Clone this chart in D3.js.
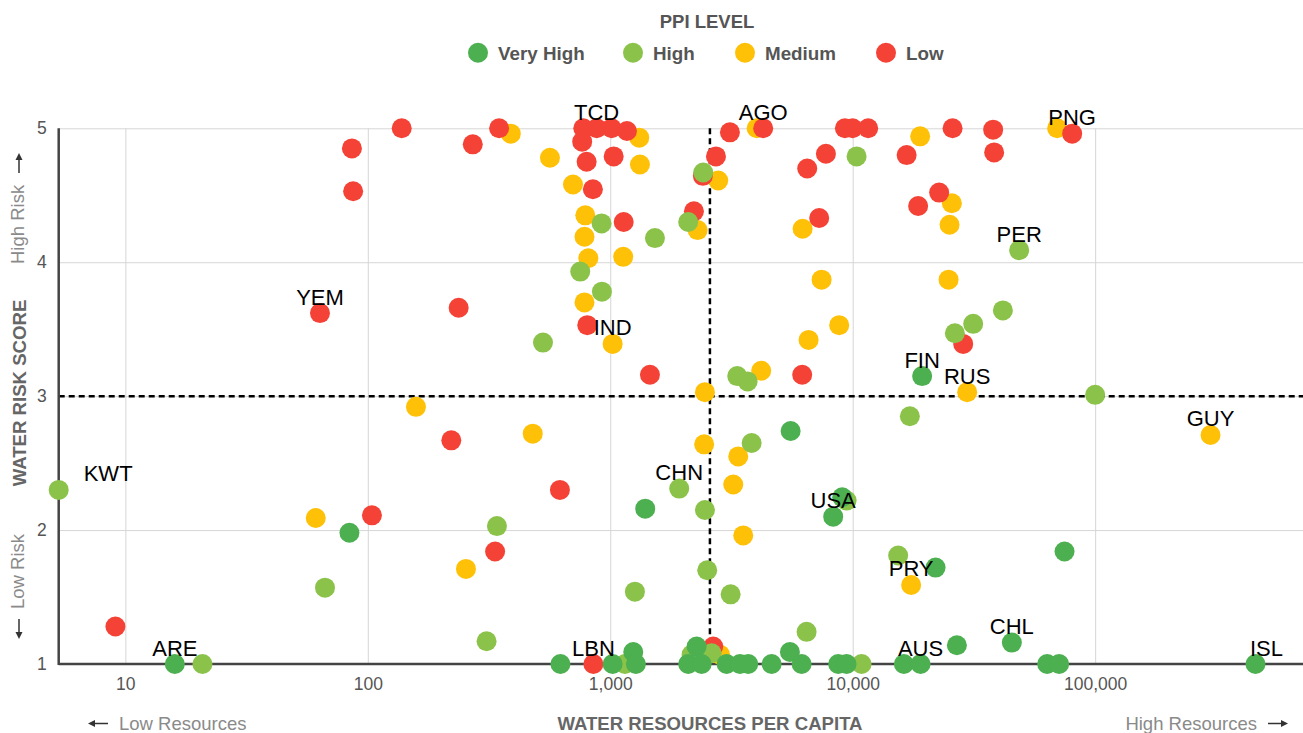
<!DOCTYPE html>
<html>
<head>
<meta charset="utf-8">
<script src="https://cdn.jsdelivr.net/npm/d3@7"></script>
<style>
  body { margin: 0; background: #fff; }
  svg { display: block; font-family: "Liberation Sans", Arial, Helvetica, sans-serif; }
</style>
</head>
<body>
<svg id="chart" width="1303" height="733"></svg>
<script>
// ---------------- DATA ----------------
const levelNames = ["Very High", "High", "Medium", "Low"];
const levelColors = ["#4caf50", "#8bc34a", "#ffc107", "#f44336"];
const xTickValues = [10, 100, 1000, 10000, 100000];
const yTickValues = [1, 2, 3, 4, 5];
const resourcesThreshold = 2577;
const riskThreshold = 3;

// [water resources per capita, water risk score, label]
const mediumPoints = [
  [61, 2.09], [158, 2.92], [254, 1.71], [479, 2.72], [389, 4.96], [564, 4.78], [702, 4.58],
  [789, 4.35], [783, 4.19], [812, 4.03], [783, 3.70], [1023, 3.39, "IND"], [1131, 4.04],
  [1317, 4.93], [1326, 4.73], [2293, 4.24], [2789, 4.61], [2458, 3.03], [2440, 2.64],
  [3372, 2.55], [3216, 2.34], [3536, 1.96], [2835, 1.07], [4016, 5.0], [4194, 3.19],
  [6214, 4.25], [7443, 3.87], [6578, 3.42], [8797, 3.53], [18980, 4.94], [25650, 4.44],
  [25090, 4.28], [24860, 3.87], [29660, 3.03, "RUS"], [17420, 1.59, "PRY"],
  [299200, 2.71, "GUY"], [69700, 5.0]
];
const lowPoints = [
  [9.1, 1.28], [86, 4.85], [87, 4.53], [138, 5.0], [63.5, 3.62, "YEM"], [237, 3.66],
  [104, 2.11], [221, 2.67], [335, 1.84], [620, 2.30], [348, 5.0], [271, 4.88], [774, 5.0],
  [766, 4.90], [879, 5.0, "TCD"], [1013, 5.0], [1172, 4.98], [799, 4.75], [1033, 4.79],
  [848, 4.545], [1136, 4.30], [804, 3.53], [1458, 3.16], [2214, 4.38], [2410, 4.645],
  [2729, 4.79], [3116, 4.97], [4274, 5.0, "AGO"], [6492, 4.70], [7754, 4.81], [9287, 5.0],
  [9991, 5.0], [11585, 5.0], [7275, 4.33], [6190, 3.16], [16690, 4.80], [25820, 5.0],
  [37960, 4.99], [38320, 4.82], [80400, 4.96, "PNG"], [22730, 4.52], [18620, 4.42],
  [28560, 3.39], [852, 1.0, "LBN"], [2659, 1.13]
];
const highPoints = [
  [5.31, 2.30, "KWT"], [20.8, 1.0], [66.6, 1.57], [341, 2.03], [309, 1.17], [528, 3.40],
  [752, 3.93], [921, 4.29], [924, 3.78], [1529, 4.18], [2097, 4.30], [2418, 4.67],
  [1925, 2.31, "CHN"], [2458, 2.15], [2512, 1.70], [1264, 1.54], [3137, 1.52], [3830, 2.65],
  [3340, 3.15], [3687, 3.11], [6455, 1.24], [10378, 4.79], [48600, 4.09, "PER"],
  [41640, 3.64], [31400, 3.54], [26390, 3.47], [100000, 3.01], [17210, 2.85], [15400, 1.81],
  [9437, 2.22], [10882, 1.0], [1150, 1.0], [2165, 1.07], [2619, 1.08]
];
const veryHighPoints = [
  [16.0, 1.0, "ARE"], [84, 1.98], [623, 1.0], [1023, 1.0], [1244, 1.09], [1276, 1.0],
  [1394, 2.16], [2271, 1.13], [2097, 1.0], [2382, 1.0], [3020, 1.0], [3427, 1.0],
  [3708, 1.0], [4630, 1.0], [5509, 1.09], [6156, 1.0], [8714, 1.0], [9437, 1.0],
  [5546, 2.74], [8310, 2.10, "USA"], [9051, 2.245], [19340, 3.15, "FIN"], [21970, 1.72],
  [74770, 1.84], [16260, 1.0], [19050, 1.0, "AUS"], [26900, 1.14], [45340, 1.16, "CHL"],
  [63400, 1.0], [71040, 1.0], [458500, 1.0, "ISL"]
];

// drawing order: Medium, Low, High, Very High
const seriesOrder = [
  { level: 2, points: mediumPoints },
  { level: 3, points: lowPoints },
  { level: 1, points: highPoints },
  { level: 0, points: veryHighPoints }
];

// ---------------- LAYOUT ----------------
const svg = d3.select("#chart");
const plot = { left: 58.7, right: 1303, top: 128.3, bottom: 664 };
const x = d3.scaleLog().domain([5.31, 720000]).range([plot.left, plot.right]);
const y = d3.scaleLinear().domain([1, 5]).range([plot.bottom, plot.top]);
const color = d3.scaleOrdinal().domain(levelNames).range(levelColors);
const labelNudge = { ISL: 11 };   // horizontal label nudge (px)

// grid
const xGrid = svg.append("g")
  .attr("transform", `translate(0,${plot.bottom})`)
  .call(d3.axisBottom(x).tickValues(xTickValues).tickSize(-(plot.bottom - plot.top)).tickFormat(""));
xGrid.select(".domain").remove();
xGrid.selectAll("line").attr("stroke", "#d6d6d6").attr("stroke-width", 1);

const yGrid = svg.append("g")
  .attr("transform", `translate(${plot.left},0)`)
  .call(d3.axisLeft(y).tickValues([2, 3, 4, 5]).tickSize(-(plot.right - plot.left)).tickFormat(""));
yGrid.select(".domain").remove();
yGrid.selectAll("line").attr("stroke", "#d6d6d6").attr("stroke-width", 1);

// tick labels
const xAxis = svg.append("g")
  .attr("transform", `translate(0,${plot.bottom})`)
  .call(d3.axisBottom(x).tickValues(xTickValues).tickSize(0).tickPadding(14).tickFormat(d3.format(",")));
xAxis.select(".domain").remove();
xAxis.selectAll("text").attr("font-size", 17.5).attr("fill", "#555")
  .style("font-family", '"Liberation Sans", Arial, sans-serif');

const yAxis = svg.append("g")
  .attr("transform", `translate(${plot.left},0)`)
  .call(d3.axisLeft(y).tickValues(yTickValues).tickSize(0).tickPadding(12).tickFormat(d3.format("d")));
yAxis.select(".domain").remove();
yAxis.selectAll("text").attr("font-size", 17.5).attr("fill", "#555")
  .style("font-family", '"Liberation Sans", Arial, sans-serif');

// threshold dashed lines
svg.append("line")
  .attr("x1", x(resourcesThreshold)).attr("x2", x(resourcesThreshold))
  .attr("y1", y(5)).attr("y2", y(1))
  .attr("stroke", "#000").attr("stroke-width", 2.5).attr("stroke-dasharray", "6,4");
svg.append("line")
  .attr("x1", plot.left).attr("x2", plot.right)
  .attr("y1", y(riskThreshold)).attr("y2", y(riskThreshold))
  .attr("stroke", "#000").attr("stroke-width", 2.5).attr("stroke-dasharray", "6,4");

// axis lines
svg.append("line")
  .attr("x1", plot.left).attr("x2", plot.left).attr("y1", plot.top).attr("y2", plot.bottom + 1)
  .attr("stroke", "#444").attr("stroke-width", 2.5);
svg.append("line")
  .attr("x1", plot.left).attr("x2", plot.right).attr("y1", plot.bottom).attr("y2", plot.bottom)
  .attr("stroke", "#444").attr("stroke-width", 2.5);

// points
const dots = svg.append("g");
seriesOrder.forEach(s => {
  dots.selectAll(null).data(s.points).enter().append("circle")
    .attr("cx", d => x(d[0]))
    .attr("cy", d => y(d[1]))
    .attr("r", 10)
    .attr("fill", color(levelNames[s.level]));
});

// country labels
const labelG = svg.append("g");
seriesOrder.forEach(s => {
  s.points.filter(d => d[2]).forEach(d => {
    const t = labelG.append("text")
      .text(d[2])
      .attr("font-size", 22)
      .attr("fill", "#000")
      .attr("text-anchor", "middle")
      .attr("y", y(d[1]) - 8.5);
    const w = t.node().getComputedTextLength();
    let cx = x(d[0]) + (labelNudge[d[2]] || 0);
    cx = Math.max(cx, plot.left + 25 + w / 2);
    cx = Math.min(cx, plot.right - 20 - w / 2);
    t.attr("x", cx);
  });
});

// arrows helper
function arrow(x1, y1, x2, y2, col) {
  const ang = Math.atan2(y2 - y1, x2 - x1);
  const hl = 7, hw = 3.5;
  const bx = x2 - hl * Math.cos(ang), by = y2 - hl * Math.sin(ang);
  svg.append("line").attr("x1", x1).attr("y1", y1).attr("x2", bx).attr("y2", by)
    .attr("stroke", col).attr("stroke-width", 1.5);
  const px = -Math.sin(ang), py = Math.cos(ang);
  svg.append("path")
    .attr("d", `M${x2},${y2}L${bx + px * hw},${by + py * hw}L${bx - px * hw},${by - py * hw}Z`)
    .attr("fill", col);
}

// x axis titles
svg.append("text").text("WATER RESOURCES PER CAPITA")
  .attr("x", 710).attr("y", 730).attr("text-anchor", "middle")
  .attr("font-size", 18.6).attr("font-weight", "bold").attr("fill", "#666");
svg.append("text").text("Low Resources")
  .attr("x", 119).attr("y", 730).attr("font-size", 18.5).attr("fill", "#8a8a8a");
arrow(108, 723.5, 88, 723.5, "#333");
svg.append("text").text("High Resources")
  .attr("x", 1257).attr("y", 730).attr("text-anchor", "end").attr("font-size", 18.5).attr("fill", "#8a8a8a");
arrow(1268, 723.5, 1288, 723.5, "#333");

// y axis titles
svg.append("text").text("WATER RISK SCORE")
  .attr("transform", "translate(26,393) rotate(-90)")
  .attr("text-anchor", "middle")
  .attr("font-size", 18.6).attr("font-weight", "bold").attr("fill", "#666");
svg.append("text").text("High Risk")
  .attr("transform", "translate(24,264) rotate(-90)")
  .attr("font-size", 18.5).attr("fill", "#8a8a8a");
arrow(19, 173, 19, 153, "#333");
svg.append("text").text("Low Risk")
  .attr("transform", "translate(24,609) rotate(-90)")
  .attr("font-size", 18.5).attr("fill", "#8a8a8a");
arrow(19, 619, 19, 639, "#333");

// legend
svg.append("text").text("PPI LEVEL")
  .attr("x", 707).attr("y", 27.5).attr("text-anchor", "middle")
  .attr("font-size", 18.5).attr("font-weight", "bold").attr("fill", "#555");
const legendCircleX = [478, 633, 745, 886];
const legend = svg.append("g");
legend.selectAll("circle").data(levelNames).enter().append("circle")
  .attr("cx", (d, i) => legendCircleX[i]).attr("cy", 52.7).attr("r", 10)
  .attr("fill", d => color(d));
legend.selectAll("text").data(levelNames).enter().append("text")
  .text(d => d)
  .attr("x", (d, i) => legendCircleX[i] + 20).attr("y", 59.5)
  .attr("font-size", 18.8).attr("font-weight", "bold").attr("fill", "#555");
</script>
</body>
</html>
